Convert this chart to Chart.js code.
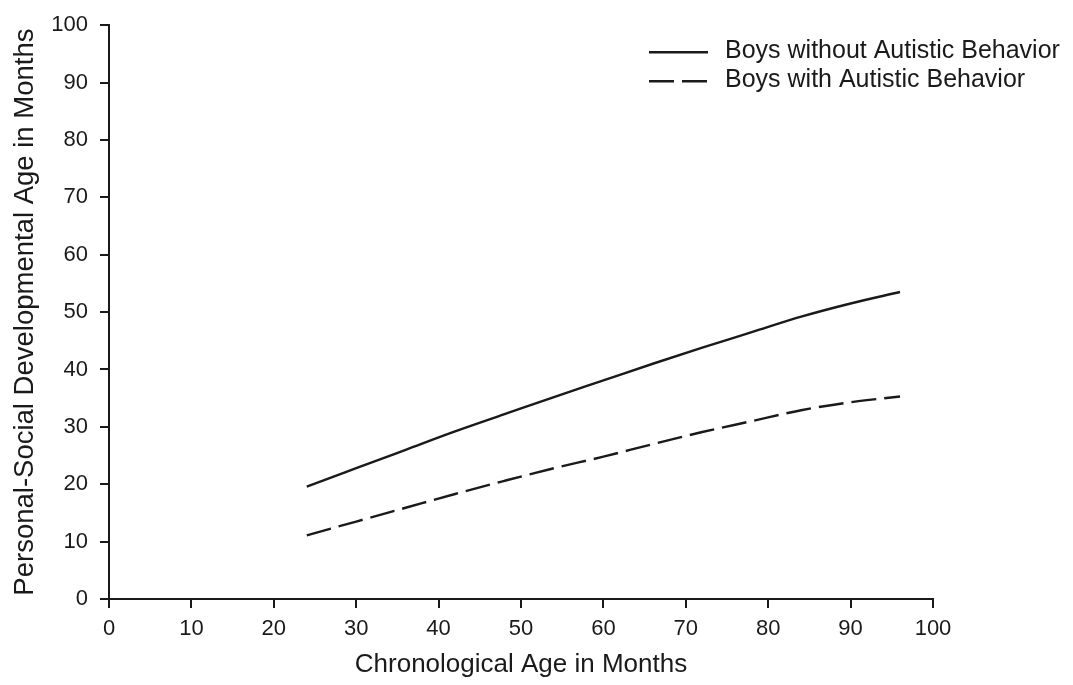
<!DOCTYPE html>
<html>
<head>
<meta charset="utf-8">
<title>Personal-Social Developmental Age</title>
<script src="https://cdn.jsdelivr.net/npm/chart.js@4.4.1/dist/chart.umd.min.js"></script>
<style>
  html, body { margin: 0; padding: 0; background: #fff; }
  #wrap { width: 1073px; height: 685px; }
</style>
</head>
<body>
<div id="wrap"><canvas id="devChart" width="1073" height="685"></canvas></div>
<script>
// Chronological age (months) at which the fitted curves are sampled
const ageMonths = [24, 30, 36, 42, 48, 54, 60, 66, 72, 78, 84, 90, 96];

// Personal-social developmental age (months)
const boysWithout = [19.6, 22.8, 26.0, 29.2, 32.2, 35.2, 38.1, 41.0, 43.8, 46.5, 49.2, 51.5, 53.5];
const boysWith = [11.1, 13.5, 15.9, 18.3, 20.6, 22.8, 24.8, 27.0, 29.1, 31.0, 32.9, 34.3, 35.3];

const seriesLabels = ['Boys without Autistic Behavior', 'Boys with Autistic Behavior'];

const FONT = '"Liberation Sans", Arial, Helvetica, sans-serif';
const INK = '#1a1a1a';

const toPoints = (ys) => ageMonths.map((x, i) => ({ x: x, y: ys[i] }));

// Legend drawn inside the plot area, top right
const insideLegend = {
  id: 'insideLegend',
  afterDraw(chart) {
    const { ctx, chartArea } = chart;
    ctx.save();
    ctx.font = '25px ' + FONT;
    ctx.fillStyle = INK;
    ctx.textBaseline = 'middle';
    ctx.textAlign = 'left';
    chart.data.datasets.forEach((ds, i) => {
      const y = chartArea.top + 26 + i * 29;
      ctx.strokeStyle = ds.borderColor;
      ctx.lineWidth = ds.borderWidth;
      ctx.setLineDash(ds.borderDash || []);
      ctx.beginPath();
      ctx.moveTo(chartArea.right - 284, y + 1);
      ctx.lineTo(chartArea.right - 225, y + 1);
      ctx.stroke();
      ctx.fillText(ds.label, chartArea.right - 208, y);
    });
    ctx.restore();
  }
};

new Chart(document.getElementById('devChart'), {
  type: 'line',
  data: {
    datasets: [
      {
        label: seriesLabels[0],
        data: toPoints(boysWithout),
        borderColor: INK,
        borderWidth: 2.4,
        pointRadius: 0,
        tension: 0.4,
        cubicInterpolationMode: 'monotone',
        fill: false
      },
      {
        label: seriesLabels[1],
        data: toPoints(boysWith),
        borderColor: INK,
        borderWidth: 2.4,
        borderDash: [25, 8],
        pointRadius: 0,
        tension: 0.4,
        cubicInterpolationMode: 'monotone',
        fill: false
      }
    ]
  },
  options: {
    responsive: false,
    animation: false,
    devicePixelRatio: 1,
    layout: { padding: { top: 19, right: 140, left: 0, bottom: 0 } },
    plugins: {
      legend: { display: false },
      tooltip: { enabled: false }
    },
    scales: {
      x: {
        type: 'linear',
        min: 0,
        max: 100,
        ticks: {
          stepSize: 10,
          color: INK,
          padding: 8,
          maxRotation: 0,
          font: { family: FONT, size: 22 }
        },
        grid: { drawOnChartArea: false, drawTicks: true, tickLength: 9, color: INK, lineWidth: 2 },
        border: { display: true, color: INK, width: 2 },
        title: {
          display: true,
          text: 'Chronological Age in Months',
          color: INK,
          font: { family: FONT, size: 26 },
          padding: { top: 0, bottom: 5 }
        },
        afterFit(scale) { scale.height = 86; }
      },
      y: {
        min: 0,
        max: 100,
        ticks: {
          stepSize: 10,
          color: INK,
          padding: 12,
          font: { family: FONT, size: 22 }
        },
        grid: { drawOnChartArea: false, drawTicks: true, tickLength: 9, color: INK, lineWidth: 2 },
        border: { display: true, color: INK, width: 2 },
        title: {
          display: true,
          text: 'Personal-Social Developmental Age in Months',
          color: INK,
          font: { family: FONT, size: 27.5 },
          padding: { top: 9, bottom: 0 }
        },
        afterFit(scale) { scale.width = 109; }
      }
    }
  },
  plugins: [insideLegend]
});
</script>
</body>
</html>
